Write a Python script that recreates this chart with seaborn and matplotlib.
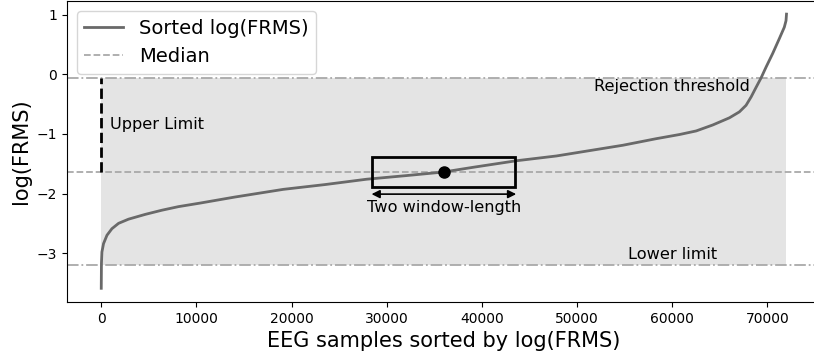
import numpy as np
import pandas as pd
import matplotlib
matplotlib.use("Agg")
import matplotlib.pyplot as plt
from matplotlib.patches import Rectangle
import seaborn as sns

# Sorted log(FRMS) curve, sample index vs value
sample_idx = [0, 20, 70, 240, 600, 1120, 1820, 2870, 4620, 6370, 8110, 10400,
              14000, 19130, 23500, 27880, 32000, 35920, 39070, 43620, 47820,
              51310, 54810, 58310, 60760, 62510, 64250, 66000, 67050, 67750,
              68280, 68800, 69330, 69850, 70550, 71250, 71770, 71950, 72000]
log_frms = [-3.59, -3.17, -2.98, -2.84, -2.70, -2.59, -2.50, -2.43, -2.35,
            -2.28, -2.22, -2.16, -2.06, -1.93, -1.85, -1.76, -1.70, -1.64,
            -1.56, -1.45, -1.37, -1.28, -1.19, -1.08, -1.01, -0.95, -0.85,
            -0.73, -0.63, -0.52, -0.38, -0.22, -0.06, 0.12, 0.35, 0.60,
            0.79, 0.90, 1.01]

n_samples = 72000
median_val = -1.64
upper_limit = -0.06
lower_limit = -3.20
window_center = 36000
window_width = 15000
window_half_height = 0.25

df = pd.DataFrame({"idx": sample_idx, "val": log_frms})

fig = plt.figure(figsize=(8.14, 3.58), dpi=100)
ax = fig.add_axes([0.0823, 0.1564, 0.926, 0.8408])

# accepted band
ax.fill_between([0, n_samples], lower_limit, upper_limit,
                color="lightgray", alpha=0.6, lw=0, zorder=0)

sns.lineplot(data=df, x="idx", y="val", ax=ax, color="dimgray", lw=2,
             label="Sorted log(FRMS)", zorder=3)
ax.axhline(median_val, color="darkgray", ls="--", lw=1.3, label="Median", zorder=1)
ax.axhline(upper_limit, color="darkgray", ls="-.", lw=1.3, zorder=1)
ax.axhline(lower_limit, color="darkgray", ls="-.", lw=1.3, zorder=1)

# upper limit distance marker
ax.plot([0, 0], [median_val, upper_limit], color="black", ls="--", lw=2, zorder=4)
ax.text(950, -0.84, "Upper Limit", fontsize=11.6, va="center", ha="left")

# window around the median
ax.add_patch(Rectangle((window_center - window_width / 2, median_val - window_half_height),
                       window_width, 2 * window_half_height, fill=False,
                       edgecolor="black", lw=2, zorder=5))
ax.plot([window_center], [median_val], "o", color="black", ms=8, zorder=6)
ax.annotate("", xy=(window_center - window_width / 2 - 100, -2.01),
            xytext=(window_center + window_width / 2 + 100, -2.01),
            arrowprops=dict(arrowstyle="<|-|>", color="black", lw=1.2,
                            mutation_scale=12, shrinkA=0, shrinkB=0))
ax.text(window_center, -2.24, "Two window-length", fontsize=11.6,
        ha="center", va="center")

ax.text(60000, -0.2, "Rejection threshold", fontsize=11.6, ha="center", va="center")
ax.text(60000, -3.02, "Lower limit", fontsize=11.6, ha="center", va="center")

ax.set_xlim(-3600, 75600)
ax.set_ylim(-3.82, 1.23)
ax.set_xticks(range(0, 80000, 10000))
ax.set_yticks([-3, -2, -1, 0, 1])
ax.tick_params(labelsize=10)
ax.set_xlabel("EEG samples sorted by log(FRMS)", fontsize=15)
ax.set_ylabel("log(FRMS)", fontsize=15)
ax.legend(loc="upper left", fontsize=14)

fig.savefig("out.png", dpi=100)
